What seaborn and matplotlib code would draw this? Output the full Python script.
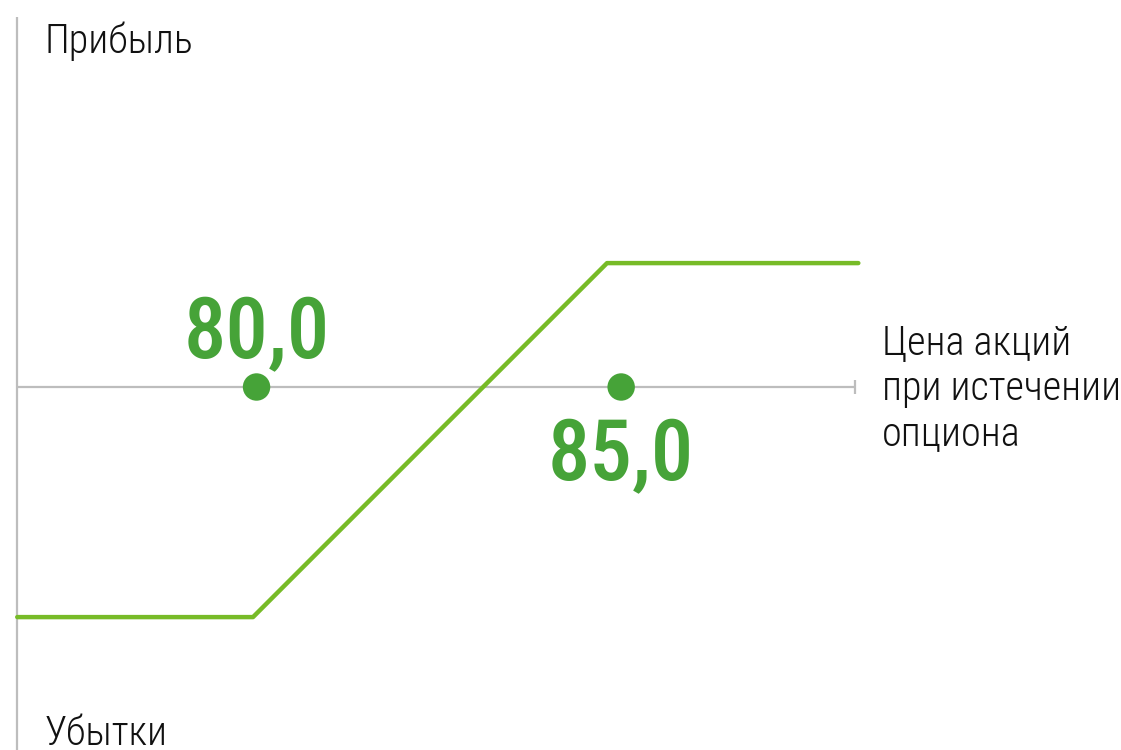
import matplotlib
matplotlib.use("Agg")
import matplotlib.pyplot as plt
import seaborn as sns
import pandas as pd

# Data (price at expiry vs payoff of the position)
price = [76.67, 80.0, 85.0, 88.55]
payoff = [-3.25, -3.25, 1.75, 1.75]
strike_points = [80.05, 85.2]
strike_labels = ["80,0", "85,0"]
axis_labels = ["Прибыль", "Убытки", "Цена акций\nпри истечении\nопциона"]

LINE = "#77BB27"
DOT = "#46A338"
AXIS = "#BDBDBD"

sns.set_theme(style="white")
plt.rcParams["font.family"] = ["Roboto Condensed", "DejaVu Sans"]

fig = plt.figure(figsize=(11.21, 7.5), dpi=100)
ax = fig.add_axes([0, 0, 1, 1])
S = 70.8
ax.set_xlim(80 - 253 / S, 80 + 868 / S)
ax.set_ylim(-363 / S, 387 / S)
ax.axis("off")

x0 = 80 - 236 / S
xend = 80 + 602 / S
ax.plot([x0, x0], [-363 / S, 370 / S], color=AXIS, lw=1.6, solid_capstyle="butt")
ax.plot([x0, xend], [0, 0], color=AXIS, lw=1.6, solid_capstyle="butt")
ax.plot([xend, xend], [-7 / S, 7 / S], color=AXIS, lw=1.6, solid_capstyle="butt")

df = pd.DataFrame({"price": price, "payoff": payoff})
sns.lineplot(data=df, x="price", y="payoff", color=LINE, lw=3.2, ax=ax, sort=False)

dots = pd.DataFrame({"x": strike_points, "y": [0, 0]})
sns.scatterplot(data=dots, x="x", y="y", color=DOT, s=390, edgecolor="none", ax=ax, zorder=5)
ax.set_xlabel("")
ax.set_ylabel("")

ax.text(strike_points[0], 29 / S, strike_labels[0], color=DOT, fontsize=61,
        fontweight="medium", ha="center", va="baseline")
ax.text(strike_points[1], -93 / S, strike_labels[1], color=DOT, fontsize=61,
        fontweight="medium", ha="center", va="baseline")

ax.text(80 - 208 / S, (387 - 53) / S, axis_labels[0], color="#111111", fontsize=29,
        fontweight="light", ha="left", va="baseline")
ax.text(80 - 208 / S, (387 - 745) / S, axis_labels[1], color="#111111", fontsize=29,
        fontweight="light", ha="left", va="baseline")
ax.text(80 + 629 / S, (387 - 324) / S, axis_labels[2], color="#111111", fontsize=29,
        fontweight="light", ha="left", va="top", linespacing=1.23)

fig.savefig("out.png", dpi=100)
